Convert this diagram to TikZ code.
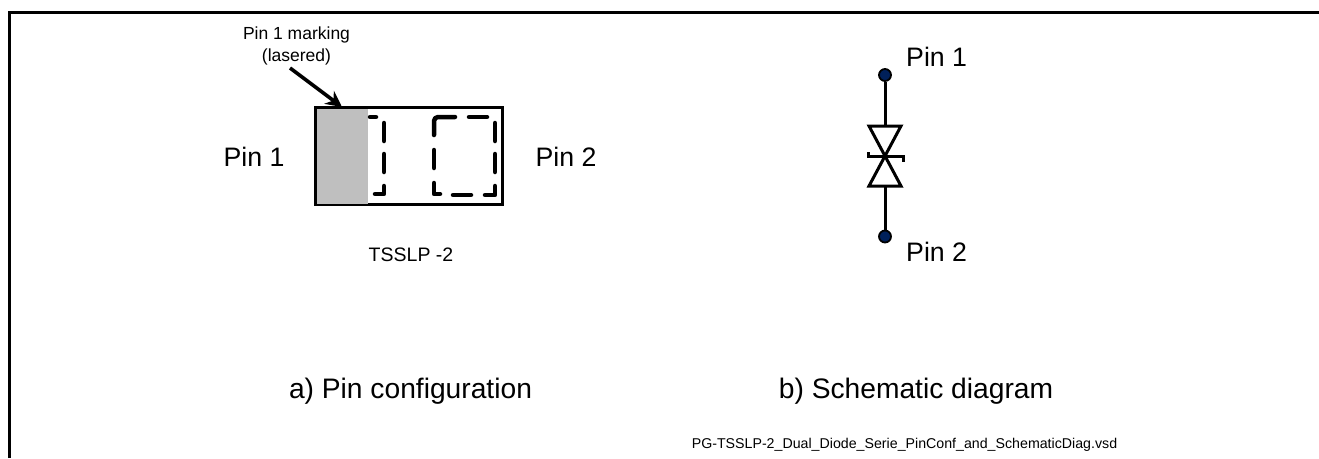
\documentclass[tikz,border=0pt]{standalone}
\usepackage{fontspec}
\setmainfont{Liberation Sans}
\usetikzlibrary{arrows.meta}
\definecolor{dotblue}{RGB}{0,32,90}
\tikzset{
  x=1pt,y=-1pt,
  frame/.style={line width=3.2pt,line cap=butt},
  pkg/.style={draw=black,line width=3pt},
  dashline/.style={line width=4.5pt,line cap=round,line join=round},
  wire/.style={line width=3pt},
  dot/.style={circle,fill=dotblue,draw=black,line width=1.8pt,minimum size=12pt,inner sep=0pt},
  big/.style={font=\fontsize{26.7}{32}\selectfont,inner sep=0pt},
  captext/.style={font=\fontsize{28.2}{33}\selectfont,inner sep=0pt,anchor=base},
  small/.style={font=\fontsize{17.5}{22}\selectfont,inner sep=0pt,align=center},
  tsstext/.style={font=\fontsize{19.5}{23}\selectfont,inner sep=0pt},
  tinytext/.style={font=\fontsize{14.2}{17}\selectfont,inner sep=0pt}
}
\begin{document}
\begin{tikzpicture}
\useasboundingbox (0,0) rectangle (1319,458);
\fill[white] (0,0) rectangle (1319,458);
% frame
\coordinate (ftl) at (9.5,12.5);
\coordinate (fbl) at (9.5,458);
\coordinate (ftr) at (1319,12.5);
\draw[frame] (fbl) -- (ftl) -- (ftr);
% package
\draw[pkg] (315,107.5) rectangle (502.5,204.5);
\fill[black!25] (316.5,109) rectangle (368,203.5);
% dashes
\draw[dashline] (370,117) -- (376,117);
\draw[dashline] (384,123) -- (384,141);
\draw[dashline] (384,154) -- (384,172);
\draw[dashline] (384,186) -- (384,194) -- (375,194);
\draw[dashline] (455,117) -- (438,117) to[out=180,in=90] (434,121) -- (434,135);
\draw[dashline] (434,150) -- (434,168);
\draw[dashline] (434,183) -- (434,194) -- (440,194);
\draw[dashline] (453,195) -- (471,195);
\draw[dashline] (485,195) -- (495,195) -- (495,186);
\draw[dashline] (495,172) -- (495,154);
\draw[dashline] (495,141) -- (495,123);
\draw[dashline] (469,117) -- (487,117);
% labels
\node[big] (p1l) at (254,157) {Pin 1};
\node[big] (p2l) at (566,157) {Pin 2};
\node[small] (mark) at (296.5,46) {Pin 1 marking\\(lasered)};
\coordinate (ar) at (342,107);
\coordinate (as) at (290,68);
\draw[line width=3.6pt,-{Stealth[length=16pt,width=16pt]}] (as) -- (ar);
\node[tsstext] (tssl) at (411,255) {TSSLP -2};
\node[captext] (cap1) at (410.5,398) {a) Pin configuration};
\node[captext] (cap2) at (916,398) {b) Schematic diagram};
\node[tinytext] (fn) at (904.5,445) {PG-TSSLP-2\_Dual\_Diode\_Serie\_PinConf\_and\_SchematicDiag.vsd};
% schematic
\node[dot] (d1) at (885,75) {};
\node[dot] (d2) at (885,236.5) {};
\coordinate (mid) at (885,156);
\coordinate (t1l) at (869,126);
\coordinate (t1r) at (901,126);
\coordinate (t2l) at (869,186);
\coordinate (t2r) at (901,186);
\coordinate (t1c) at (885,126);
\coordinate (t2c) at (885,186);
\draw[wire] (d1) -- (t1c);
\draw[wire] (d2) -- (t2c);
\draw[wire,line join=miter] (t1l) -- (t1r) -- (mid) -- cycle;
\draw[wire,line join=miter] (t2l) -- (t2r) -- (mid) -- cycle;
\draw[wire] (868,152) -- (868,156) -- (903,156) -- (903,162);
\node[big,anchor=west] (s1) at (906,57) {Pin 1};
\node[big,anchor=west] (s2) at (906,252) {Pin 2};
\end{tikzpicture}
\end{document}
